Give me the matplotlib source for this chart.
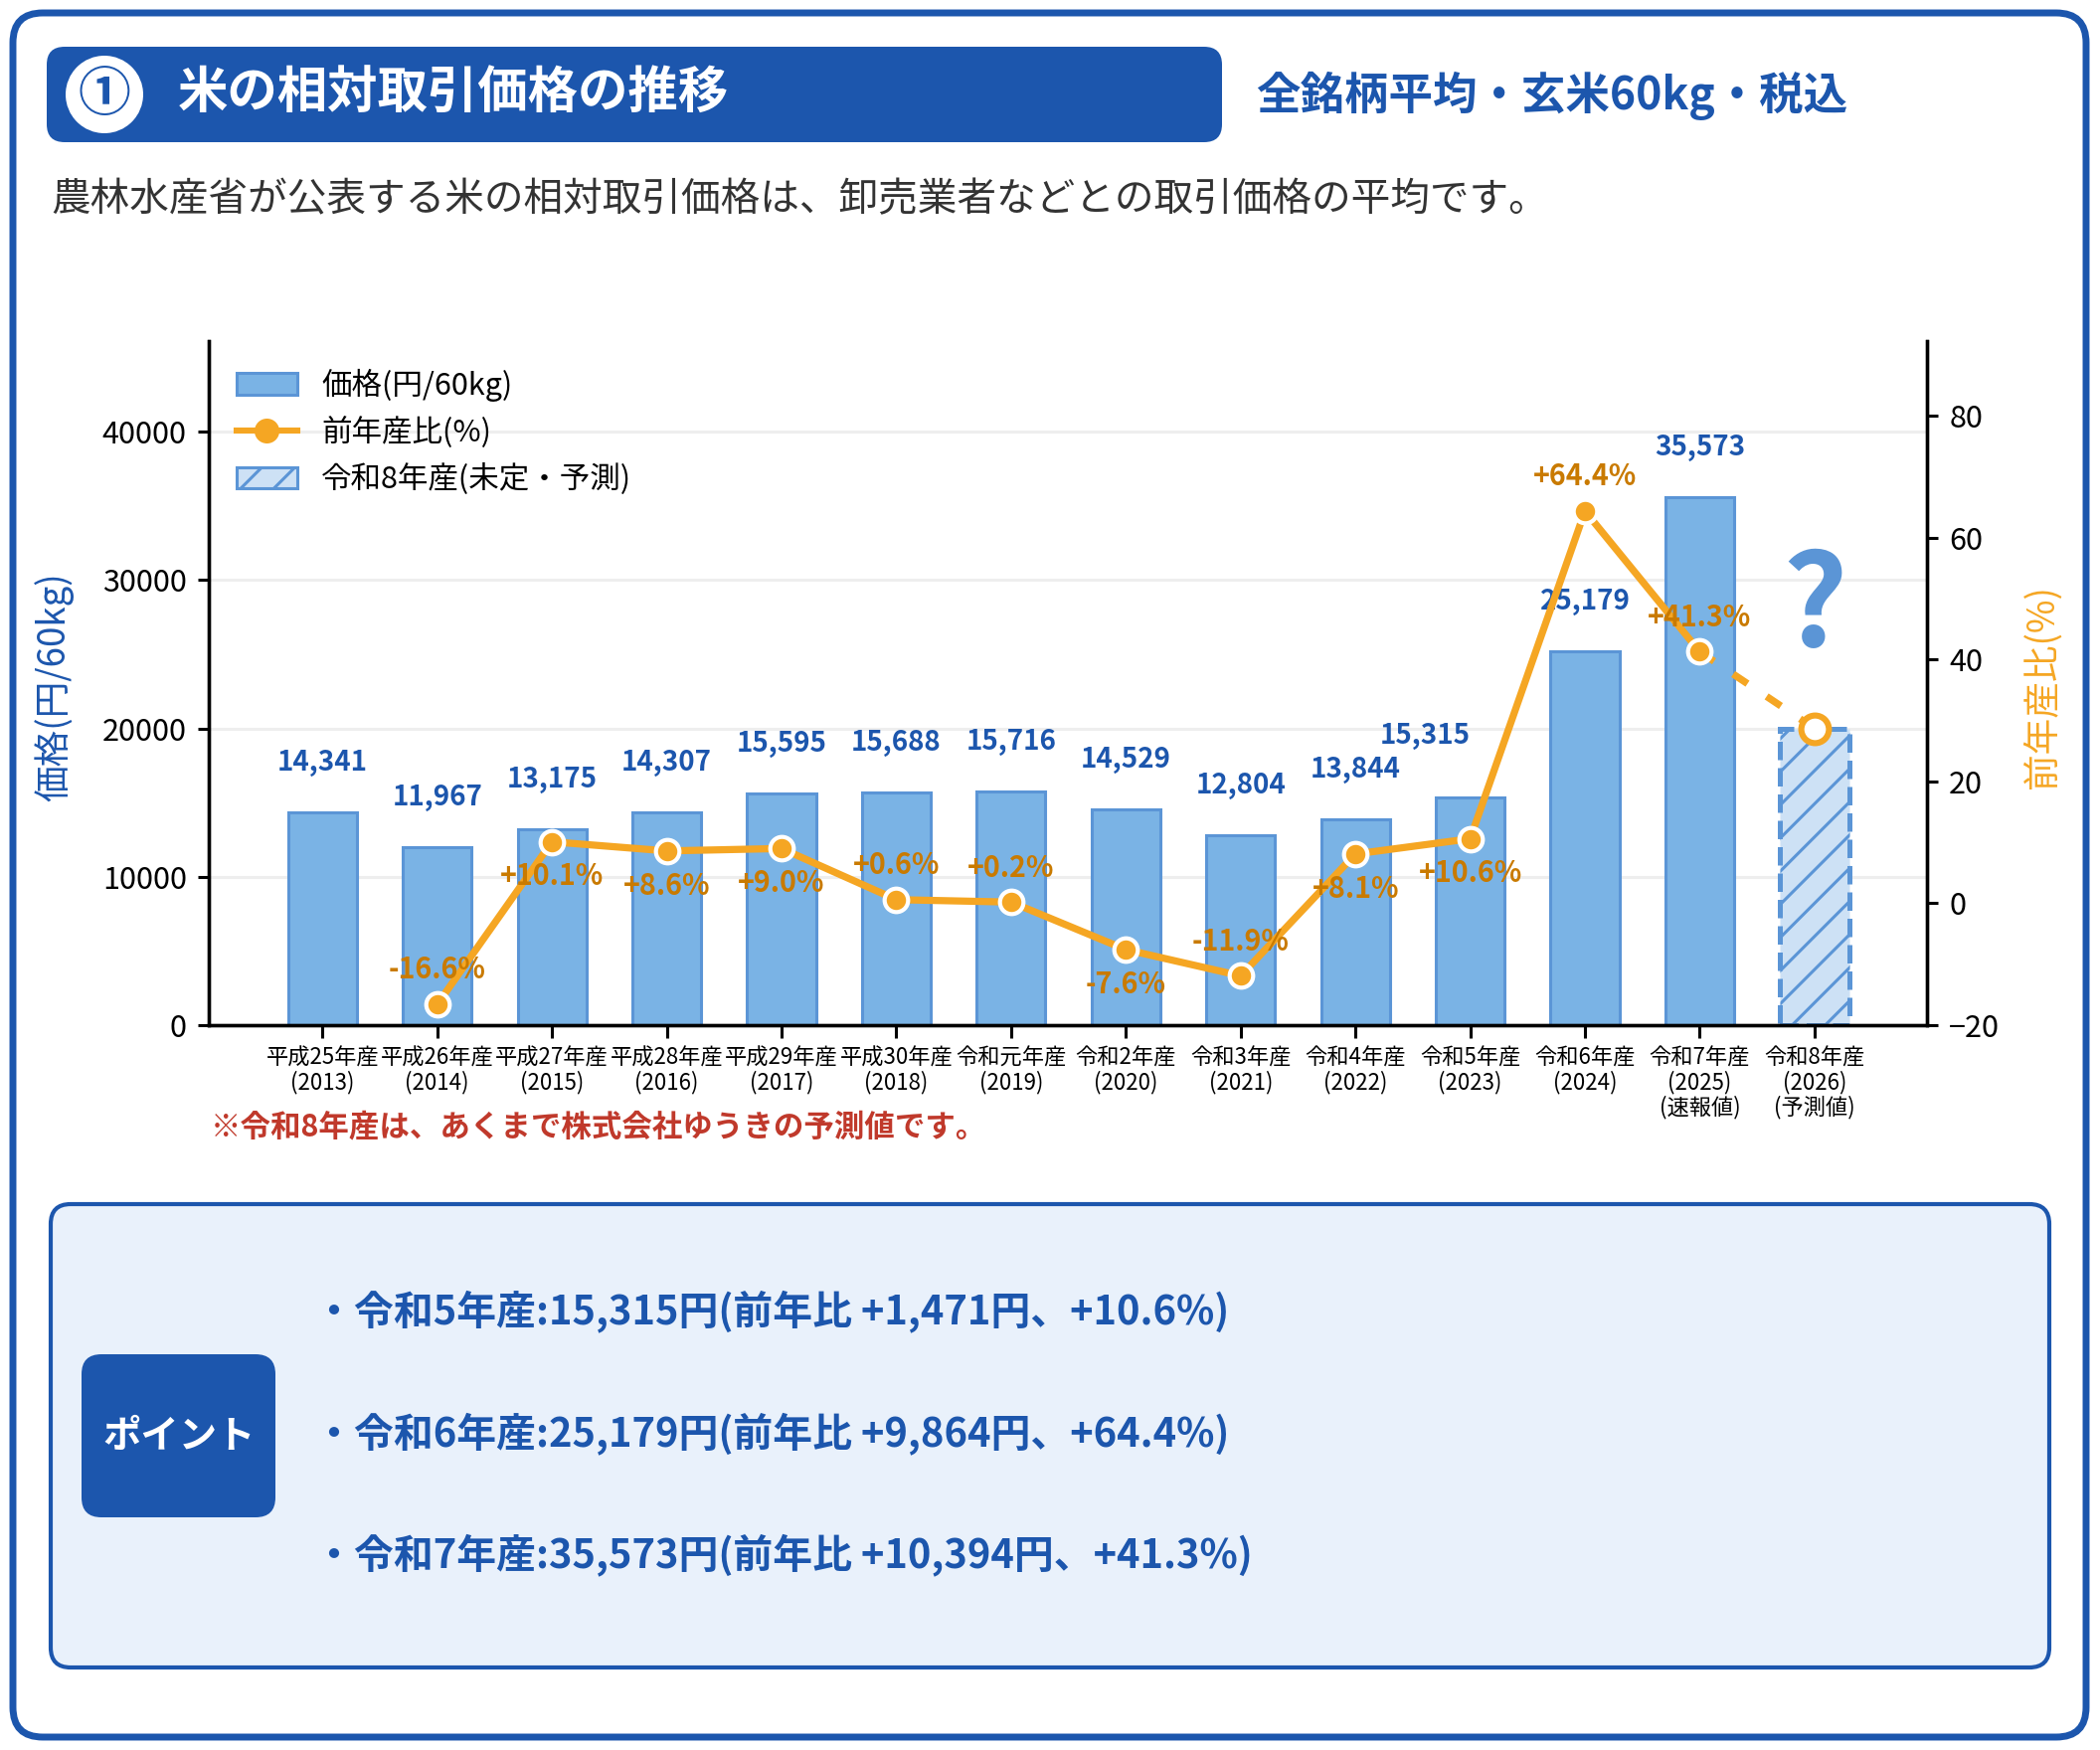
import numpy as np
import matplotlib
matplotlib.use('Agg')
import matplotlib.pyplot as plt
from matplotlib.patches import FancyBboxPatch, Circle, Patch
from matplotlib.lines import Line2D

plt.rcParams['font.family'] = ['Noto Sans CJK JP', 'DejaVu Sans']
plt.rcParams['hatch.linewidth'] = 1.1

# data
labels = ['平成25年産\n(2013)', '平成26年産\n(2014)', '平成27年産\n(2015)', '平成28年産\n(2016)',
          '平成29年産\n(2017)', '平成30年産\n(2018)', '令和元年産\n(2019)', '令和2年産\n(2020)',
          '令和3年産\n(2021)', '令和4年産\n(2022)', '令和5年産\n(2023)', '令和6年産\n(2024)',
          '令和7年産\n(2025)\n(速報値)', '令和8年産\n(2026)\n(予測値)']
prices = [14341, 11967, 13175, 14307, 15595, 15688, 15716, 14529, 12804, 13844, 15315, 25179, 35573]
forecast_price = 20000
pct = [np.nan, -16.6, 10.1, 8.6, 9.0, 0.6, 0.2, -7.6, -11.9, 8.1, 10.6, 64.4, 41.3]
forecast_pct = 28.7
pct_above = [False, True, False, False, False, True, True, False, True, False, False, True, True]
points = ['・令和5年産:15,315円(前年比 +1,471円、+10.6%)',
          '・令和6年産:25,179円(前年比 +9,864円、+64.4%)',
          '・令和7年産:35,573円(前年比 +10,394円、+41.3%)']

BLUE = '#1c56ad'
BAR = '#7ab3e5'
BAR_EDGE = '#5b95d6'
ORANGE = '#f5a623'
DARK_ORANGE = '#c97a00'

W, H = 2112, 1760
fig = plt.figure(figsize=(W / 200, H / 200), dpi=200, facecolor='white')

# background layer in pixel coords
bg = fig.add_axes([0, 0, 1, 1], zorder=0)
bg.set_xlim(0, W)
bg.set_ylim(H, 0)
bg.axis('off')


def rbox(x0, y0, x1, y1, r, **kw):
    p = FancyBboxPatch((x0 + r, y0 + r), x1 - x0 - 2 * r, y1 - y0 - 2 * r,
                       boxstyle='round,pad={},rounding_size={}'.format(r, r), **kw)
    bg.add_patch(p)


rbox(13, 13, 2098, 1747, 30, fc='white', ec=BLUE, lw=2.5)
rbox(47, 47, 1229, 143, 18, fc=BLUE, ec='none')
bg.add_patch(Circle((105, 95), 39, fc='white', ec='none'))
bg.text(105, 96, '①', color=BLUE, fontsize=19, ha='center', va='center', fontweight='bold')
bg.text(179, 94, '米の相対取引価格の推移', color='white', fontsize=18.15, fontweight='bold', ha='left', va='center')
bg.text(1263, 96, '全銘柄平均・玄米60kg・税込', color=BLUE, fontsize=16, fontweight='bold', ha='left', va='center')
bg.text(51, 201, '農林水産省が公表する米の相対取引価格は、卸売業者などとの取引価格の平均です。',
        color='#333333', fontsize=14.27, ha='left', va='center')
bg.text(212, 1133, '※令和8年産は、あくまで株式会社ゆうきの予測値です。', color='#c0392b',
        fontsize=10.97, fontweight='bold', ha='left', va='center')

rbox(51, 1211, 2061, 1677, 20, fc='#e9f1fb', ec=BLUE, lw=1.5)
rbox(82, 1362, 277, 1526, 20, fc=BLUE, ec='none')
bg.text(180, 1444, 'ポイント', color='white', fontsize=13.8, fontweight='bold', ha='center', va='center')
for y, s in zip([1319, 1442, 1564], points):
    bg.text(316, y, s, color=BLUE, fontsize=14.35, fontweight='bold', ha='left', va='center')

# chart
ax = fig.add_axes([210 / W, 1 - 1031 / H, (1938 - 210) / W, 688 / H], zorder=1)
ax.patch.set_alpha(0)
x = np.arange(len(prices))
x_next = len(prices)

ax.bar(x, prices, width=0.6, color=BAR, edgecolor=BAR_EDGE, linewidth=1.1, zorder=2)
ax.bar(x_next, forecast_price, width=0.6, facecolor='#cde1f5', edgecolor=BAR_EDGE, hatch='//',
       linestyle='--', linewidth=1.8, zorder=2)
ax.set_xlim(-0.99, 13.98)
ax.set_ylim(0, 46100)
ax.set_yticks([0, 10000, 20000, 30000, 40000])
ax.yaxis.grid(True, color='#eeeeee', linewidth=1.1, zorder=0)
ax.set_axisbelow(True)
ax.set_xticks(np.arange(len(labels)))
ax.set_xticklabels(labels, fontsize=8, linespacing=1.06)
ax.tick_params(axis='x', length=4.5, width=1.1, pad=3.3)
ax.tick_params(axis='y', labelsize=11, length=4, width=1.1, pad=4)
ax.spines['top'].set_visible(False)
for s in ['left', 'bottom', 'right']:
    ax.spines[s].set_linewidth(1.2)

for xi, v in zip(x, prices):
    dx, off = 0, 18
    if v == 15315:
        dx, off = -16.5, 22.5
    ax.annotate('{:,}'.format(v), (xi, v), xytext=(dx, off), textcoords='offset points',
                ha='center', va='center', fontsize=10, fontweight='bold', color=BLUE, zorder=3)

ax.text(x_next, 28000, '?', fontsize=46, fontweight='bold', color=BAR_EDGE, ha='center', va='center', zorder=3)

ax2 = ax.twinx()
ax2.set_ylim(-20, 92.3)
ax2.set_yticks([-20, 0, 20, 40, 60, 80])
ax2.tick_params(axis='y', labelsize=11, length=4, width=1.1, pad=4)
ax2.spines['top'].set_visible(False)
for s in ['left', 'bottom', 'right']:
    ax2.spines[s].set_linewidth(1.2)

ax2.plot([x[-1], x_next], [pct[-1], forecast_pct], color=ORANGE, lw=2.6, linestyle=(0, (2.4, 3.2)), zorder=4)
ax2.plot(x, pct, color=ORANGE, lw=2.6, marker='o', markersize=8.5, markeredgecolor='white',
         markeredgewidth=1.5, zorder=5)
ax2.plot([x_next], [forecast_pct], marker='o', markersize=10, markerfacecolor='white',
         markeredgecolor=ORANGE, markeredgewidth=2.2, linestyle='none', zorder=5)

for xi, v, up in zip(x, pct, pct_above):
    if np.isnan(v):
        continue
    off = 12.5 if up else -12.5
    ax2.annotate('{:+.1f}%'.format(v), (xi, v), xytext=(0, off), textcoords='offset points',
                 ha='center', va='center', fontsize=10.3, fontweight='bold', color=DARK_ORANGE, zorder=6)

bg.text(54, 691, '価格(円/60kg)', rotation=90, color=BLUE, fontsize=13.2, ha='center', va='center')
bg.text(2054, 691, '前年産比(%)', rotation=90, color=ORANGE, fontsize=13.2, ha='center', va='center')

handles = [Patch(facecolor=BAR, edgecolor=BAR_EDGE, linewidth=1.1),
           Line2D([0], [0], color=ORANGE, lw=2.2, marker='o', markersize=8, markeredgecolor=ORANGE),
           Patch(facecolor='#cde1f5', edgecolor=BAR_EDGE, hatch='//', linewidth=1.1)]
ax2.legend(handles, ['価格(円/60kg)', '前年産比(%)', '令和8年産(未定・予測)'],
           loc='upper left', fontsize=11, frameon=False)

fig.savefig('out.png', dpi=200)
